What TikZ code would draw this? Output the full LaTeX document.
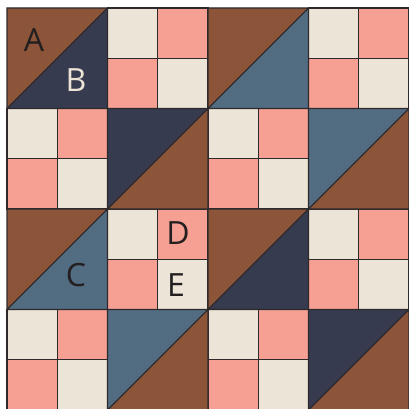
\documentclass[tikz,border=0pt]{standalone}
\usepackage{fontspec}
\setmainfont{Open Sans}
\usetikzlibrary{positioning}
\definecolor{quiltbrown}{HTML}{8C553A}
\definecolor{quiltnavy}{HTML}{373B50}
\definecolor{quiltslate}{HTML}{526C82}
\definecolor{quiltpink}{HTML}{F6A094}
\definecolor{quiltcream}{HTML}{ECE4D6}
\definecolor{seamgray}{HTML}{2E2A2B}
\definecolor{inkdark}{HTML}{231F20}

\begin{document}
\begin{tikzpicture}[x=1pt, y=-1pt, font=\fontsize{32}{32}\selectfont]
    \tikzstyle{seam} = [draw=seamgray, line width=1.1pt]
    \tikzstyle{letter} = [text=inkdark, inner sep=0pt]

    \useasboundingbox (0,0) rectangle (409,409);
    \fill[white] (0,0) rectangle (409,409);
    \clip (0,0) rectangle (409,409);

    % four-patch blocks
    \foreach \c/\r in {1/0, 3/0, 0/1, 2/1, 1/2, 3/2, 0/3, 2/3} {
        \begin{scope}[shift={(7+100.5*\c, 8+100.5*\r)}]
            \fill[quiltcream] (0,0) rectangle (100.5,100.5);
            \fill[quiltpink] (50.25,0) rectangle (100.5,50.25);
            \fill[quiltpink] (0,50.25) rectangle (50.25,100.5);
            \draw[seam] (0,0) rectangle (100.5,100.5)
                (50.25,0) -- (50.25,100.5)
                (0,50.25) -- (100.5,50.25);
        \end{scope}
    }

    % half-square triangles: upper-left / lower-right
    \foreach \c/\r/\ul/\lr in {0/0/quiltbrown/quiltnavy, 2/0/quiltbrown/quiltslate,
                               1/1/quiltnavy/quiltbrown, 3/1/quiltslate/quiltbrown,
                               0/2/quiltbrown/quiltslate, 2/2/quiltbrown/quiltnavy,
                               1/3/quiltslate/quiltbrown, 3/3/quiltnavy/quiltbrown} {
        \begin{scope}[shift={(7+100.5*\c, 8+100.5*\r)}]
            \fill[\ul] (0,0) -- (100.5,0) -- (0,100.5) -- cycle;
            \fill[\lr] (100.5,0) -- (100.5,100.5) -- (0,100.5) -- cycle;
            \draw[seam] (0,0) rectangle (100.5,100.5)
                (0,100.5) -- (100.5,0);
        \end{scope}
    }

    \node (lblA) [letter] at (34,40) {A};
    \node (lblB) [letter, text=quiltcream] at (76,80) {B};
    \node (lblC) [letter] at (76,275) {C};
    \node (lblD) [letter] at (178,233) {D};
    \node (lblE) [letter] at (176,285) {E};
\end{tikzpicture}
\end{document}
